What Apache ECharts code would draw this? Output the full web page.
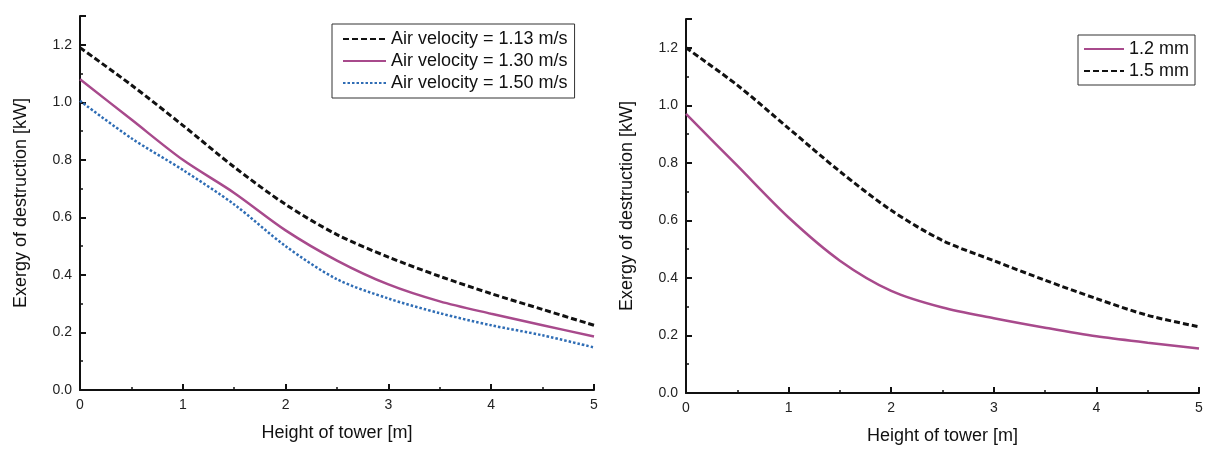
<!DOCTYPE html>
<html>
<head>
<meta charset="utf-8">
<script src="https://cdn.jsdelivr.net/npm/echarts@6/dist/echarts.min.js"></script>
<style>html,body{margin:0;padding:0;background:#fff}#c{width:1209px;height:450px}</style>
</head>
<body>
<div id="c"></div>
<script>
// Shared x values (Height of tower [m])
const heights = [0, 0.5, 1, 1.5, 2, 2.5, 3, 3.5, 4, 4.5, 5];
// Left panel: air velocity series (kW)
const v113 = [1.19, 1.06, 0.92, 0.775, 0.645, 0.54, 0.462, 0.395, 0.335, 0.28, 0.225];
const v130 = [1.08, 0.94, 0.80, 0.685, 0.555, 0.45, 0.367, 0.308, 0.265, 0.225, 0.186];
const v150 = [1.005, 0.875, 0.765, 0.645, 0.5, 0.385, 0.318, 0.267, 0.225, 0.19, 0.148];
// Right panel: diameter series (kW)
const d12 = [0.97, 0.79, 0.61, 0.46, 0.355, 0.297, 0.26, 0.227, 0.197, 0.175, 0.155];
const d15 = [1.20, 1.07, 0.92, 0.77, 0.635, 0.53, 0.46, 0.392, 0.328, 0.27, 0.23];
// Labels
const leftNames = ['Air velocity = 1.13 m/s', 'Air velocity = 1.30 m/s', 'Air velocity = 1.50 m/s'];
const rightNames = ['1.2 mm', '1.5 mm'];
const xName = 'Height of tower [m]';
const yName = 'Exergy of destruction [kW]';

const FONT = 'Liberation Sans, Arial, sans-serif';
const pairs = ys => heights.map((x, i) => [x, ys[i]]);

function xAx(idx, gap) {
  return {
    gridIndex: idx, type: 'value', min: 0, max: 5, interval: 1,
    name: xName, nameLocation: 'middle', nameGap: gap,
    nameTextStyle: {fontFamily: FONT, fontSize: 18, color: '#111'},
    axisLine: {lineStyle: {color: '#111', width: 2}},
    axisTick: {inside: true, length: 6, lineStyle: {color: '#111', width: 2}},
    minorTick: {show: true, splitNumber: 2, length: 3, lineStyle: {color: '#111', width: 1.5}},
    axisLabel: {fontFamily: FONT, fontSize: 14, color: '#222', margin: 8},
    splitLine: {show: false}
  };
}
function yAx(idx) {
  return {
    gridIndex: idx, type: 'value', min: 0, max: 1.3, interval: 0.2,
    name: yName, nameLocation: 'middle', nameGap: 50,
    nameTextStyle: {fontFamily: FONT, fontSize: 18, color: '#111'},
    axisLine: {show: true, lineStyle: {color: '#111', width: 2}},
    axisTick: {show: true, inside: true, length: 6, lineStyle: {color: '#111', width: 2}},
    minorTick: {show: true, splitNumber: 2, length: 3, lineStyle: {color: '#111', width: 1.5}},
    axisLabel: {fontFamily: FONT, fontSize: 14, color: '#222', margin: 8, showMaxLabel: false,
      formatter: v => (Math.abs(v - 1.3) < 1e-6 ? '' : v.toFixed(1))},
    splitLine: {show: false}
  };
}
function ln(name, data, xi, color, type, width) {
  return {
    name, type: 'line', xAxisIndex: xi, yAxisIndex: xi, data: pairs(data),
    smooth: 0.3, symbol: 'none', showSymbol: false,
    lineStyle: {color, type, width}, itemStyle: {color}, emphasis: {disabled: true}
  };
}
const BLACK = '#111', PURPLE = '#a84a8c', BLUE = '#2f6db5';

const option = {
  backgroundColor: '#fff',
  animation: false,
  grid: [
    {left: 80, top: 16, width: 514, height: 374, containLabel: false},
    {left: 686, top: 19, width: 513, height: 378, containLabel: false}
  ],
  xAxis: [xAx(0, 34), xAx(1, 34)],
  yAxis: [yAx(0), yAx(1)],
  legend: [
    {data: leftNames, orient: 'vertical', left: 332, top: 24,
     itemWidth: 43, itemHeight: 14, itemGap: 2, padding: [5, 7, 5, 10],
     itemStyle: {opacity: 0},
     borderColor: '#333', borderWidth: 1, backgroundColor: '#fff',
     textStyle: {fontFamily: FONT, fontSize: 18, color: '#111', lineHeight: 20}},
    {data: rightNames, orient: 'vertical', left: 1078, top: 35,
     itemWidth: 40, itemHeight: 14, itemGap: 2, padding: [4, 6, 4, 5],
     itemStyle: {opacity: 0},
     borderColor: '#333', borderWidth: 1, backgroundColor: '#fff',
     textStyle: {fontFamily: FONT, fontSize: 18, color: '#111', lineHeight: 20}}
  ],
  series: [
    ln(leftNames[0], v113, 0, BLACK, [6, 3], 3),
    ln(leftNames[1], v130, 0, PURPLE, 'solid', 2.5),
    ln(leftNames[2], v150, 0, BLUE, [2.5, 2], 2.5),
    ln(rightNames[0], d12, 1, PURPLE, 'solid', 2.5),
    ln(rightNames[1], d15, 1, BLACK, [6, 3], 3)
  ]
};
const chart = echarts.init(document.getElementById('c'), null, {renderer: 'canvas'});
chart.setOption(option);
</script>
</body>
</html>
